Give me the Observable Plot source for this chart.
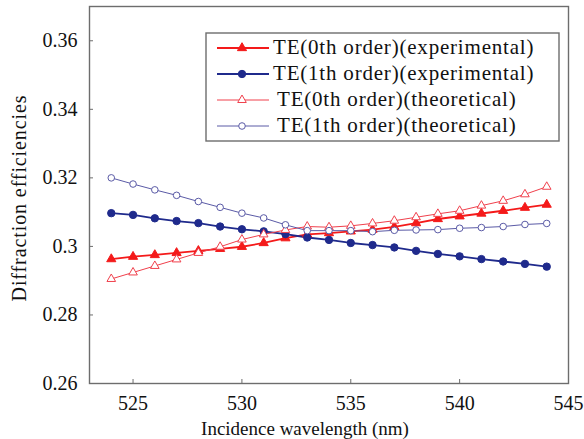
<!DOCTYPE html>
<html>
<head>
<meta charset="utf-8">
<script src="https://cdn.jsdelivr.net/npm/d3@7"></script>
<script src="https://cdn.jsdelivr.net/npm/@observablehq/plot@0.6"></script>
<style>
  html, body { margin: 0; padding: 0; background: #fff; }
  #chart svg { display: block; }
  #chart text { font-variant: normal; font-variant-numeric: normal; }
</style>
</head>
<body>
<div id="chart"></div>
<script>
// Incidence wavelength (nm)
const wavelength = [524,525,526,527,528,529,530,531,532,533,534,535,536,537,538,539,540,541,542,543,544];
// Diffraction efficiencies
const te0Experimental = [0.2963,0.2970,0.2975,0.2981,0.2987,0.2993,0.2999,0.3010,0.3024,0.3035,0.3039,0.3044,0.3049,0.3057,0.3068,0.3080,0.3088,0.3096,0.3104,0.3113,0.3122];
const te1Experimental = [0.3097,0.3092,0.3082,0.3074,0.3068,0.3058,0.3050,0.3044,0.3036,0.3026,0.3019,0.3010,0.3004,0.2997,0.2987,0.2978,0.2971,0.2963,0.2956,0.2949,0.2941];
const te0Theoretical = [0.2905,0.2924,0.2943,0.2962,0.2981,0.2999,0.3020,0.3035,0.3048,0.3058,0.3056,0.3060,0.3067,0.3075,0.3085,0.3095,0.3104,0.3119,0.3133,0.3152,0.3174];
const te1Theoretical = [0.3200,0.3182,0.3165,0.3149,0.3131,0.3114,0.3097,0.3083,0.3063,0.3046,0.3046,0.3046,0.3043,0.3047,0.3048,0.3049,0.3053,0.3055,0.3058,0.3064,0.3067];

const xTicks = [525, 530, 535, 540, 545];
const yTicks = [0.26, 0.28, 0.30, 0.32, 0.34, 0.36];

const seriesNames = [
  "TE(0th order)(experimental)",
  "TE(1th order)(experimental)",
  "TE(0th order)(theoretical)",
  "TE(1th order)(theoretical)"
];
const seriesValues = [te0Experimental, te1Experimental, te0Theoretical, te1Theoretical];
const styles = [
  {stroke: "#f41a1a", width: 1.8, symbol: "triangle", r: 3.4, fill: "#f41a1a", textX: 273},
  {stroke: "#1f2a8c", width: 1.8, symbol: "circle", r: 3.7, fill: "#1f2a8c", textX: 273},
  {stroke: "#f0404c", width: 1, symbol: "triangle", r: 3.2, fill: "white", textX: 277},
  {stroke: "#5a5aa6", width: 1, symbol: "circle", r: 3.3, fill: "white", textX: 277}
];

const FONT = "Liberation Serif";
const rows = seriesNames.map((name, i) => wavelength.map((w, j) => ({series: name, i, w, v: seriesValues[i][j]})));

const marks = [Plot.frame({stroke: "#6d6d6d", strokeWidth: 1.4})];
rows.forEach((data, i) => {
  const s = styles[i];
  marks.push(Plot.line(data, {x: "w", y: "v", stroke: s.stroke, strokeWidth: s.width}));
});
rows.forEach((data, i) => {
  const s = styles[i];
  marks.push(Plot.dot(data, {x: "w", y: "v", symbol: s.symbol, r: s.r, fill: s.fill, stroke: s.stroke, strokeWidth: 1}));
});
marks.push(
  Plot.axisX({ticks: xTicks, tickSize: -4, tickPadding: 16, label: null, stroke: "#6d6d6d", fontFamily: FONT, fontVariant: "normal", tickFormat: d => String(d)}),
  Plot.axisY({ticks: yTicks, tickSize: -4, tickPadding: 16, label: null, stroke: "#6d6d6d", fontFamily: FONT, fontVariant: "normal", tickFormat: d => String(+d.toFixed(2))})
);

const plot = Plot.plot({
  width: 584,
  height: 439,
  marginLeft: 89,
  marginRight: 16,
  marginTop: 6,
  marginBottom: 56,
  x: {domain: [523, 545]},
  y: {domain: [0.26, 0.37]},
  style: {fontFamily: FONT, fontSize: "20px", background: "#fff", color: "#111"},
  marks
});
document.getElementById("chart").appendChild(plot);

const svg = d3.select(plot);
// axis titles
svg.append("text")
  .attr("x", 305).attr("y", 435)
  .attr("text-anchor", "middle")
  .attr("font-family", FONT)
  .attr("font-size", 19).attr("fill", "#111")
  .text("Incidence wavelength (nm)");
svg.append("text")
  .attr("transform", "translate(26,198) rotate(-90)")
  .attr("text-anchor", "middle")
  .attr("font-family", FONT)
  .attr("font-size", 20).attr("letter-spacing", 0.9).attr("fill", "#111")
  .text("Diffraction efficiencies");

// legend
const lg = svg.append("g");
lg.append("rect").attr("x", 206).attr("y", 33).attr("width", 353).attr("height", 108)
  .attr("fill", "#fff").attr("stroke", "#6d6d6d").attr("stroke-width", 1.4);
const rowY = [48, 74, 100, 126];
seriesNames.forEach((name, i) => {
  const s = styles[i];
  const y = rowY[i];
  lg.append("line").attr("x1", 217).attr("x2", 269).attr("y1", y).attr("y2", y)
    .attr("stroke", s.stroke).attr("stroke-width", s.width);
  const sym = s.symbol === "triangle" ? d3.symbolTriangle : d3.symbolCircle;
  lg.append("path").attr("d", d3.symbol(sym, Math.PI * s.r * s.r)())
    .attr("transform", `translate(242,${y})`)
    .attr("fill", s.fill).attr("stroke", s.stroke).attr("stroke-width", 1);
  lg.append("text").attr("x", s.textX).attr("y", y + 6)
    .attr("text-anchor", "start")
    .attr("font-family", FONT)
    .attr("font-size", 21).attr("letter-spacing", 0.8).attr("fill", "#111")
    .text(name);
});
</script>
</body>
</html>
